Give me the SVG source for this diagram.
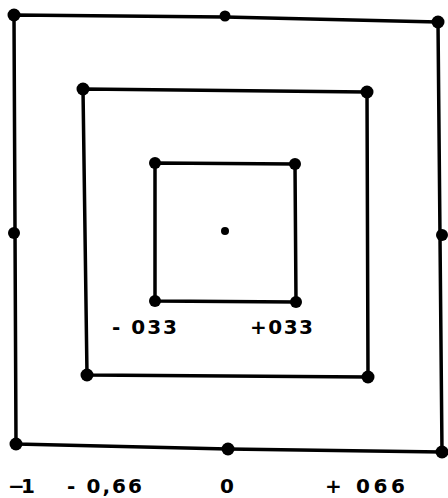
<svg xmlns="http://www.w3.org/2000/svg" width="448" height="498" viewBox="0 0 448 498">
<style>
.sq{fill:none;stroke:#000;stroke-width:3.5;stroke-linejoin:round}
.dot{fill:#000}
.lbl{font-family:"DejaVu Sans","Liberation Sans",sans-serif;font-weight:bold;font-size:20px;fill:#000}
</style>
<rect width="448" height="498" fill="#fff"/>
<g id="outer">
<polygon class="sq" points="14,15 225,17 438,22 442,452 228,449 16,444"/>
<circle class="dot" cx="14" cy="15" r="6.5"/>
<circle class="dot" cx="225" cy="16" r="5.5"/>
<circle class="dot" cx="438" cy="22" r="6.5"/>
<circle class="dot" cx="14" cy="233" r="6"/>
<circle class="dot" cx="442" cy="235" r="6"/>
<circle class="dot" cx="16" cy="444" r="6.5"/>
<circle class="dot" cx="228" cy="449" r="6.5"/>
<circle class="dot" cx="442" cy="452" r="6.5"/>
</g>
<g id="middle">
<polygon class="sq" points="83,89 367,92 368,377 87,375"/>
<circle class="dot" cx="83" cy="89" r="6.5"/>
<circle class="dot" cx="367" cy="92" r="6.5"/>
<circle class="dot" cx="87" cy="375" r="6.5"/>
<circle class="dot" cx="368" cy="377" r="6.5"/>
</g>
<g id="inner">
<polygon class="sq" points="155,163 295,164 296,302 155,301"/>
<circle class="dot" cx="155" cy="163" r="6"/>
<circle class="dot" cx="295" cy="164" r="6"/>
<circle class="dot" cx="155" cy="301" r="6"/>
<circle class="dot" cx="296" cy="302" r="6"/>
</g>
<g id="center">
<circle class="dot" cx="225" cy="231" r="4"/>
</g>
<g id="labels">
<text class="lbl" x="112" y="334" textLength="65" lengthAdjust="spacing">- 033</text>
<text class="lbl" x="250" y="334" textLength="63" lengthAdjust="spacing">+033</text>
<text class="lbl" x="8" y="493" textLength="27" lengthAdjust="spacing">−1</text>
<text class="lbl" x="67" y="493" textLength="75" lengthAdjust="spacing">- 0,66</text>
<text class="lbl" x="220" y="493">0</text>
<text class="lbl" x="325" y="493" textLength="80" lengthAdjust="spacing">+ 066</text>
</g>
</svg>
